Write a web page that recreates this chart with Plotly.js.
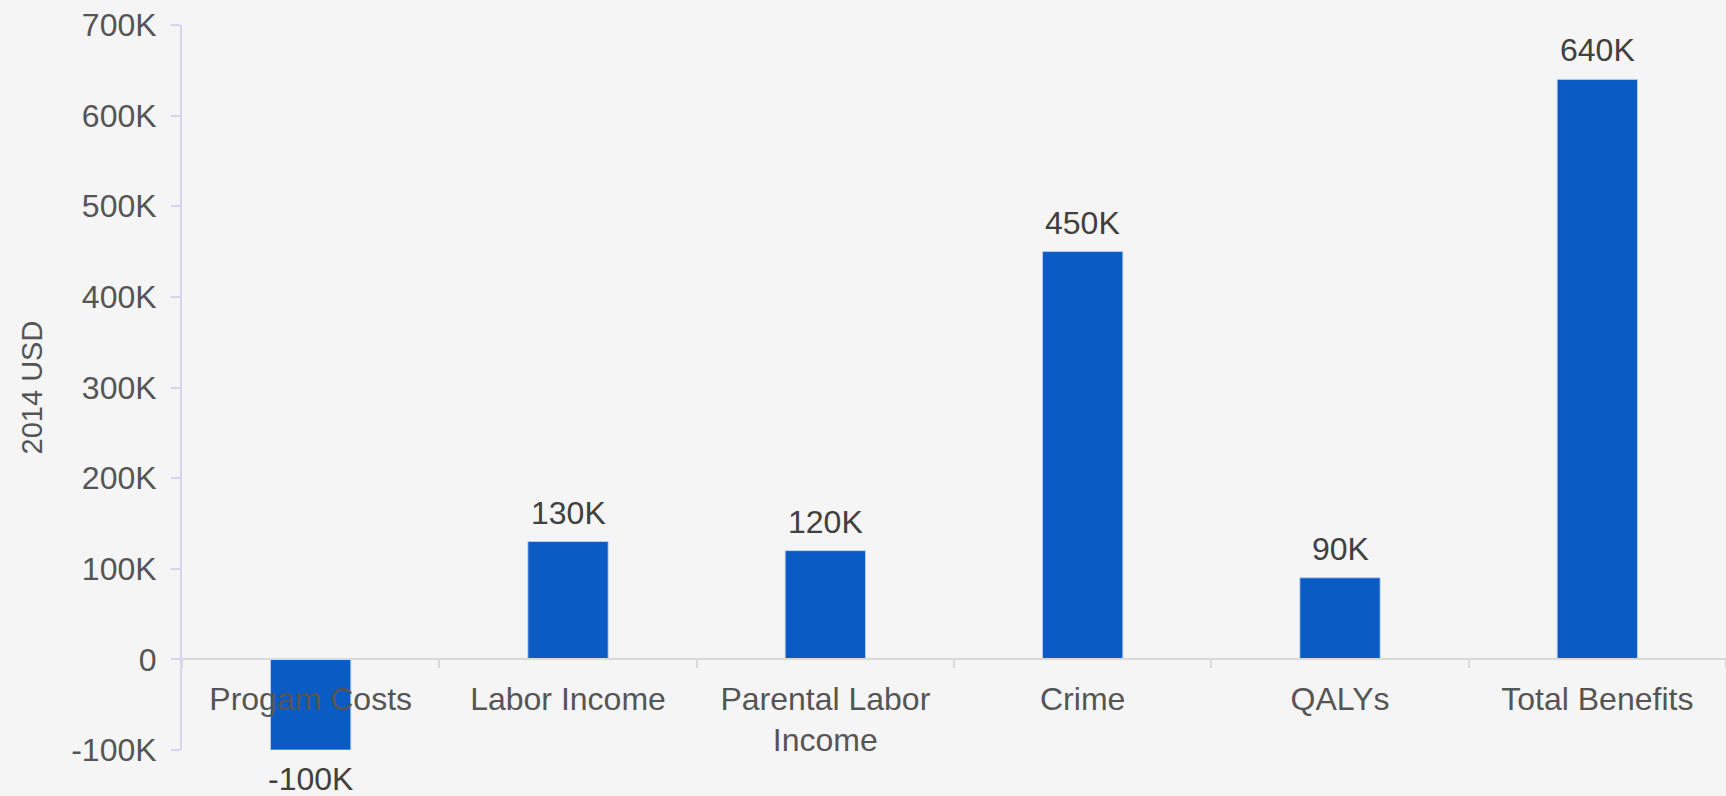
<!DOCTYPE html>
<html>
<head>
<meta charset="utf-8">
<script src="https://cdn.plot.ly/plotly-3.0.1.min.js"></script>
<style>
html,body{margin:0;padding:0;background:#f5f5f5;}
#chart{width:1726px;height:796px;}
</style>
</head>
<body>
<div id="chart"></div>
<script>
const categories = ["Progam Costs", "Labor Income", "Parental Labor<br>Income", "Crime", "QALYs", "Total Benefits"];
const values = [-100000, 130000, 120000, 450000, 90000, 640000];
const yTickVals = [-100000, 0, 100000, 200000, 300000, 400000, 500000, 600000, 700000];
const yTickText = ["-100K", "0", "100K", "200K", "300K", "400K", "500K", "600K", "700K"];
const yTitle = "2014 USD";

const labels = values.map(v => (v / 1000) + "K");
const FONT = "Liberation Sans, Arial, sans-serif";

const trace = {
  type: "bar",
  x: categories,
  y: values,
  marker: { color: "#0a5bc4", line: { color: "rgba(190,210,245,0.8)", width: 1 } },
  hoverinfo: "x+y"
};

const annotations = values.map((v, i) => ({
  x: categories[i],
  y: v,
  xref: "x",
  yref: "y",
  text: labels[i],
  showarrow: false,
  yanchor: "middle",
  yshift: v >= 0 ? 29 : -29,
  font: { family: FONT, size: 32, color: "#404040" }
}));

const layout = {
  width: 1726,
  height: 796,
  paper_bgcolor: "#f5f5f5",
  plot_bgcolor: "#f5f5f5",
  margin: { l: 182, r: 0, t: 25, b: 46, pad: 0 },
  showlegend: false,
  bargap: 0.688,
  font: { family: FONT, color: "#555555" },
  xaxis: {
    type: "category",
    anchor: "free",
    position: 0.125,
    showline: true,
    linecolor: "#d9d9d9",
    linewidth: 2,
    ticks: "outside",
    tickson: "boundaries",
    ticklen: 8,
    tickcolor: "#d9d9d9",
    tickwidth: 1.5,
    showgrid: false,
    zeroline: false,
    automargin: false,
    ticklabelstandoff: 11,
    tickfont: { family: FONT, size: 32, color: "#555555" }
  },
  yaxis: {
    range: [-100000, 700000],
    tickvals: yTickVals,
    ticktext: yTickText,
    showline: true,
    linecolor: "#d4d4f2",
    linewidth: 2,
    ticks: "outside",
    ticklen: 9,
    tickcolor: "#d4d4f2",
    tickwidth: 1.5,
    showgrid: false,
    zeroline: false,
    automargin: false,
    ticklabelstandoff: 8,
    tickfont: { family: FONT, size: 32, color: "#555555" },
    title: { text: yTitle, standoff: 20, font: { family: FONT, size: 29, color: "#555555" } }
  },
  annotations: annotations
};

Plotly.newPlot("chart", [trace], layout, { displayModeBar: false, responsive: false });
</script>
</body>
</html>
